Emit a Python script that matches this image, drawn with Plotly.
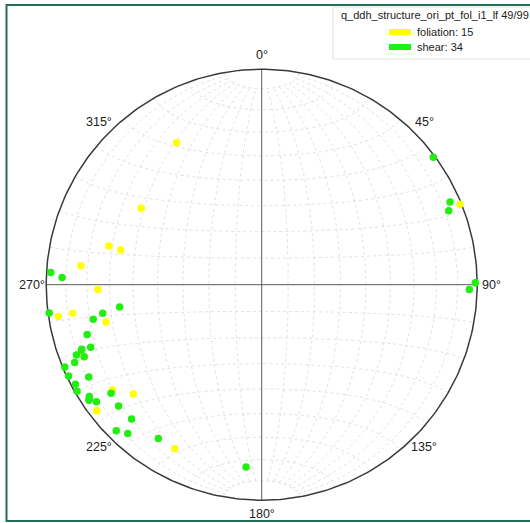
import numpy as np
import plotly.graph_objects as go

# Poles to structures: trend / plunge in degrees (lower hemisphere)
foliation_trend = [329.1, 302.4, 284.2, 283.8, 276.0, 268.3, 261.1, 261.4,
                   256.5, 234.8, 229.6, 232.6, 207.9, 67.9, 247.9]
foliation_plunge = [24.2, 34.2, 27.7, 33.1, 16.8, 24.9, 5.0, 12.3,
                    26.6, 16.3, 22.8, 4.1, 14.9, 0.8, 12.1]

shear_trend = [273.3, 272.1, 261.1, 262.4, 259.8, 258.4, 254.1, 249.9,
               250.3, 249.2, 247.9, 247.4, 247.3, 244.7, 241.9, 241.9,
               240.0, 234.2, 237.0, 236.2, 234.7, 229.7, 224.1, 224.9,
               222.0, 213.9, 184.9, 53.4, 66.3, 68.4, 89.5, 91.3,
               250.0, 236.5]
shear_plunge = [2.2, 8.1, 33.7, 0.6, 26.0, 21.3, 16.9, 16.6,
                12.3, 8.9, 12.1, 6.7, 1.1, 1.0, 9.9, 2.3,
                1.2, 14.9, 5.2, 4.0, 6.7, 14.0, 14.3, 4.9,
                7.9, 15.1, 16.2, 0.9, 5.1, 7.4, 1.0, 4.1,
                12.0, 4.5]

azimuth_ticks = [0, 45, 90, 135, 180, 225, 270, 315]

title_text = "q_ddh_structure_ori_pt_fol_i1_lf 49/99"
series_names = ["foliation", "shear"]
series_colors = ["#ffff00", "#22ee11"]


def equal_area(trend, plunge):
    """Lambert equal-area (Schmidt) projection, primitive radius 1."""
    t = np.radians(np.asarray(trend, float))
    p = np.radians(np.asarray(plunge, float))
    r = np.sqrt(2.0) * np.sin((np.pi / 2 - p) / 2.0)
    return r * np.sin(t), r * np.cos(t)


def sphere_to_net(lon, lat):
    lon = np.radians(np.asarray(lon, float))
    lat = np.radians(np.asarray(lat, float))
    k = np.sqrt(2.0 / (1.0 + np.cos(lat) * np.cos(lon)))
    return k * np.cos(lat) * np.sin(lon) / np.sqrt(2), k * np.sin(lat) / np.sqrt(2)


fig = go.Figure()

# Schmidt net grid: meridians and parallels every 10 deg, capped at 80 deg
gx, gy = [], []
lat_line = np.linspace(-80, 80, 161)
for lon in range(-80, 90, 10):
    if lon == 0:
        continue
    x, y = sphere_to_net(np.full_like(lat_line, lon), lat_line)
    gx += list(x) + [None]
    gy += list(y) + [None]
lon_line = np.linspace(-90, 90, 181)
for lat in range(-80, 90, 10):
    if lat == 0:
        continue
    x, y = sphere_to_net(lon_line, np.full_like(lon_line, lat))
    gx += list(x) + [None]
    gy += list(y) + [None]
fig.add_trace(go.Scatter(x=gx, y=gy, mode="lines", hoverinfo="skip",
                         line=dict(color="#d9d9d9", width=0.8, dash="dot"),
                         showlegend=False))

# N-S and E-W diameters
fig.add_trace(go.Scatter(x=[0, 0, None, -1, 1], y=[-1, 1, None, 0, 0],
                         mode="lines", hoverinfo="skip",
                         line=dict(color="#5a5a5a", width=1), showlegend=False))

# primitive circle
a = np.linspace(0, 2 * np.pi, 361)
fig.add_trace(go.Scatter(x=np.cos(a), y=np.sin(a), mode="lines", hoverinfo="skip",
                         line=dict(color="#3a3a3a", width=1.5), showlegend=False))

# data points
for name, color, tr, pl in [
    ("foliation", series_colors[0], foliation_trend, foliation_plunge),
    ("shear", series_colors[1], shear_trend, shear_plunge),
]:
    x, y = equal_area(tr, pl)
    fig.add_trace(go.Scatter(x=x, y=y, mode="markers", name=f"{name}: {len(tr)}",
                             marker=dict(size=7.5, color=color, line=dict(width=0)),
                             showlegend=False))

# azimuth labels
for az in azimuth_ticks:
    lx, ly = 1.066 * np.sin(np.radians(az)), 1.066 * np.cos(np.radians(az))
    fig.add_annotation(x=lx, y=ly, text=f"{az}°", showarrow=False,
                       font=dict(family="Liberation Sans, Arial", size=12.5, color="#222"),
                       xanchor="center", yanchor="middle")

W, H = 530, 523
cx, cy, rad = 261.7, 284.7, 215.5


def px(x):
    return x / W


def py(y):
    return 1 - y / H


shapes = [
    # outer frame
    dict(type="rect", xref="paper", yref="paper", x0=px(6.5), y0=py(5), x1=px(545), y1=py(521),
         line=dict(color="#236f52", width=2)),
    # legend box
    dict(type="rect", xref="paper", yref="paper", x0=px(333), y0=py(7), x1=px(545), y1=py(59),
         line=dict(color="#e2e2e2", width=1), fillcolor="rgba(255,255,255,0.9)"),
]
counts = [len(foliation_trend), len(shear_trend)]
for i, (nm, col, n) in enumerate(zip(series_names, series_colors, counts)):
    yc = 32 + i * 15
    shapes.append(dict(type="rect", xref="paper", yref="paper",
                       x0=px(389), x1=px(411), y0=py(yc - 3), y1=py(yc + 3),
                       line=dict(width=0), fillcolor=col))
    fig.add_annotation(xref="paper", yref="paper", x=px(415), y=py(yc), text=f"{nm}: {n}",
                       showarrow=False, xanchor="left", yanchor="middle",
                       font=dict(family="Liberation Sans, Arial", size=11, color="#222"))
fig.add_annotation(xref="paper", yref="paper", x=px(339), y=py(15), text=title_text,
                   showarrow=False, xanchor="left", yanchor="middle",
                   font=dict(family="Liberation Sans, Arial", size=11, color="#222"))

fig.update_layout(
    width=W, height=H, margin=dict(l=0, r=0, t=0, b=0),
    paper_bgcolor="white", plot_bgcolor="white",
    xaxis=dict(range=[-cx / rad, (W - cx) / rad], visible=False, fixedrange=True),
    yaxis=dict(range=[-(H - cy) / rad, cy / rad], visible=False, fixedrange=True),
    shapes=shapes, showlegend=False,
)

fig.write_html("out.html")
